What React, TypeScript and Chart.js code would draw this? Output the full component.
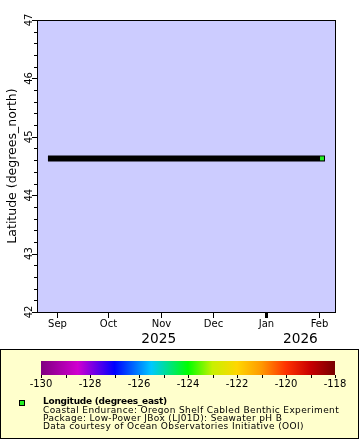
import { useEffect, useRef } from 'react';
import { Chart, registerables } from 'chart.js';

Chart.register(...registerables);

// ---- data ----
const obsTimes = [
  '2025-08-28T16:00:00Z',
  '2025-09-10T00:00:00Z',
  '2025-09-25T00:00:00Z',
  '2025-10-10T00:00:00Z',
  '2025-10-25T00:00:00Z',
  '2025-11-10T00:00:00Z',
  '2025-11-25T00:00:00Z',
  '2025-12-10T00:00:00Z',
  '2025-12-25T00:00:00Z',
  '2026-01-10T00:00:00Z',
  '2026-01-25T00:00:00Z',
  '2026-02-02T14:00:00Z',
];
const latitudes = [44.63, 44.63, 44.63, 44.63, 44.63, 44.63, 44.63, 44.63, 44.63, 44.63, 44.63, 44.63];
const lastPointColor = '#22ee22';

const xMinDate = '2025-08-21T03:00:00Z';
const xMaxDate = '2026-02-10T04:00:00Z';
const monthTickDates = ['2025-09-01', '2025-10-01', '2025-11-01', '2025-12-01', '2026-01-01', '2026-02-01'];
const monthTickLabels = ['Sep', 'Oct', 'Nov', 'Dec', 'Jan', 'Feb'];
const yearLabelDates = ['2025-10-30T12:00:00Z', '2026-01-21T00:00:00Z'];
const yearLabels = ['2025', '2026'];

const latMin = 42;
const latMax = 47;
const latTicks = [42, 43, 44, 45, 46, 47];
const yTitle = 'Latitude (degrees_north)';

const colorbarMin = -130;
const colorbarMax = -118;
const colorbarTicks = [-130, -129, -128, -127, -126, -125, -124, -123, -122, -121, -120, -119, -118];
const colorbarLabels = [-130, -128, -126, -124, -122, -120, -118];
const colorbarStopValues = [-130, -128.5, -127, -125.5, -124, -123, -122, -121, -120, -119, -118];
const colorbarStopColors = ['#800080', '#d000d0', '#0000ff', '#00c8ff', '#00ff00', '#c8f000', '#ffd700', '#ff9900', '#ff3300', '#c80000', '#780000'];

const legendTitle = 'Longitude (degrees_east)';
const legendLines = [
  'Coastal Endurance: Oregon Shelf Cabled Benthic Experiment',
  'Package: Low-Power JBox (LJ01D): Seawater pH B',
  'Data courtesy of Ocean Observatories Initiative (OOI)',
];

const FONT = '"DejaVu Sans", sans-serif';

const decorPlugin = {
  id: 'decor',
  beforeDatasetsDraw(chart: any) {
    const { ctx, chartArea } = chart;
    ctx.save();
    ctx.fillStyle = '#ccccff';
    ctx.fillRect(chartArea.left, chartArea.top, chartArea.right - chartArea.left, chartArea.bottom - chartArea.top);
    ctx.restore();
  },
  afterDraw(chart: any) {
    const { ctx, chartArea } = chart;
    const { left, right, top, bottom } = chartArea;
    const xs = chart.scales.x;
    const ys = chart.scales.y;
    ctx.save();
    ctx.strokeStyle = '#000';
    ctx.fillStyle = '#000';
    ctx.lineWidth = 1;
    // box
    ctx.strokeRect(Math.round(left) - 0.5, Math.round(top) + 0.5, Math.round(right - left) + 1, Math.round(bottom - top));

    // y ticks (major + minor)
    ctx.beginPath();
    for (let i = 0; i <= (latMax - latMin) * 5; i++) {
      const v = latMin + i * 0.2;
      const py = Math.round(ys.getPixelForValue(v)) + 0.5;
      const major = i % 5 === 0;
      ctx.moveTo(left - (major ? 6 : 4), py);
      ctx.lineTo(left, py);
    }
    ctx.stroke();
    ctx.font = `10px ${FONT}`;
    ctx.textAlign = 'center';
    ctx.textBaseline = 'middle';
    latTicks.forEach((v) => {
      const py = ys.getPixelForValue(v);
      ctx.save();
      ctx.translate(29.5, py);
      ctx.rotate(-Math.PI / 2);
      ctx.fillText(String(v), 0, 0);
      ctx.restore();
    });
    // y title
    ctx.save();
    ctx.font = `12.5px ${FONT}`;
    ctx.translate(12.5, (top + bottom) / 2);
    ctx.rotate(-Math.PI / 2);
    ctx.fillText(yTitle, 0, 0);
    ctx.restore();

    // x ticks
    monthTickDates.forEach((d, i) => {
      const px = Math.round(xs.getPixelForValue(Date.parse(d)));
      const isYear = d.endsWith('-01-01');
      ctx.fillRect(px - (isYear ? 1 : 0), bottom, isYear ? 3 : 1, 6);
      ctx.font = `10px ${FONT}`;
      ctx.fillText(monthTickLabels[i], px + 0.5, bottom + 12);
    });
    ctx.font = `13.7px ${FONT}`;
    yearLabelDates.forEach((d, i) => {
      const px = xs.getPixelForValue(Date.parse(d));
      ctx.fillText(yearLabels[i], px, bottom + 27);
    });

    // legend box
    ctx.fillStyle = '#ffffcc';
    ctx.fillRect(0, 349, 359, 90);
    ctx.strokeRect(0.5, 349.5, 358, 89);

    // colorbar
    const cbL = 41, cbR = 335, cbT = 361, cbB = 375;
    const toX = (v: number) => cbL + ((v - colorbarMin) / (colorbarMax - colorbarMin)) * (cbR - cbL);
    const grad = ctx.createLinearGradient(cbL, 0, cbR, 0);
    colorbarStopValues.forEach((v, i) => grad.addColorStop((v - colorbarMin) / (colorbarMax - colorbarMin), colorbarStopColors[i]));
    ctx.fillStyle = grad;
    ctx.fillRect(cbL, cbT, cbR - cbL, cbB - cbT);
    ctx.fillStyle = '#000';
    ctx.beginPath();
    colorbarTicks.forEach((v) => {
      const px = Math.round(toX(v)) + 0.5;
      ctx.moveTo(px, cbB);
      ctx.lineTo(px, cbB + 3);
    });
    ctx.stroke();
    ctx.font = `10px ${FONT}`;
    colorbarLabels.forEach((v) => {
      ctx.fillText(String(v), toX(v), 384.5);
    });

    // legend marker
    ctx.fillStyle = '#000';
    ctx.fillRect(19, 400, 6, 6);
    ctx.fillStyle = lastPointColor;
    ctx.fillRect(20, 401, 4, 4);

    // legend text
    ctx.fillStyle = '#000';
    ctx.textAlign = 'left';
    ctx.textBaseline = 'alphabetic';
    ctx.font = `bold 9px ${FONT}`;
    (ctx as any).letterSpacing = '-0.25px';
    ctx.fillText(legendTitle, 43, 403.5);
    ctx.font = `9px ${FONT}`;
    (ctx as any).letterSpacing = '0.37px';
    legendLines.forEach((t, i) => ctx.fillText(t, 43, 412.5 + i * 8.3));
    (ctx as any).letterSpacing = '0px';
    ctx.restore();
  },
};

export default function App() {
  const ref = useRef<HTMLCanvasElement | null>(null);
  useEffect(() => {
    document.body.style.margin = '0';
    if (!ref.current) return;
    const n = latitudes.length;
    const chart = new Chart(ref.current, {
      type: 'line',
      data: {
        datasets: [
          {
            data: obsTimes.map((t, i) => ({ x: Date.parse(t), y: latitudes[i] })),
            borderColor: '#000',
            borderWidth: 6,
            borderCapStyle: 'square',
            pointStyle: 'rect',
            pointRadius: (c: any) => (c.dataIndex === n - 1 ? 2.83 : 0),
            pointBorderWidth: 0,
            pointBackgroundColor: lastPointColor,
            pointHoverRadius: 0,
            tension: 0,
          },
        ],
      },
      options: {
        animation: false,
        responsive: false,
        events: [],
        layout: { padding: { top: 20, right: 25, left: 0, bottom: 0 } },
        plugins: { legend: { display: false }, tooltip: { enabled: false } },
        scales: {
          x: {
            type: 'linear',
            min: Date.parse(xMinDate),
            max: Date.parse(xMaxDate),
            grid: { display: false },
            border: { display: false },
            ticks: { display: false },
            afterFit: (s: any) => { s.height = 128; },
          },
          y: {
            type: 'linear',
            min: latMin,
            max: latMax,
            grid: { display: false },
            border: { display: false },
            ticks: { display: false },
            afterFit: (s: any) => { s.width = 38; },
          },
        },
      },
      plugins: [decorPlugin],
    } as any);
    return () => chart.destroy();
  }, []);
  return <canvas ref={ref} width={360} height={440} style={{ display: 'block' }} />;
}
